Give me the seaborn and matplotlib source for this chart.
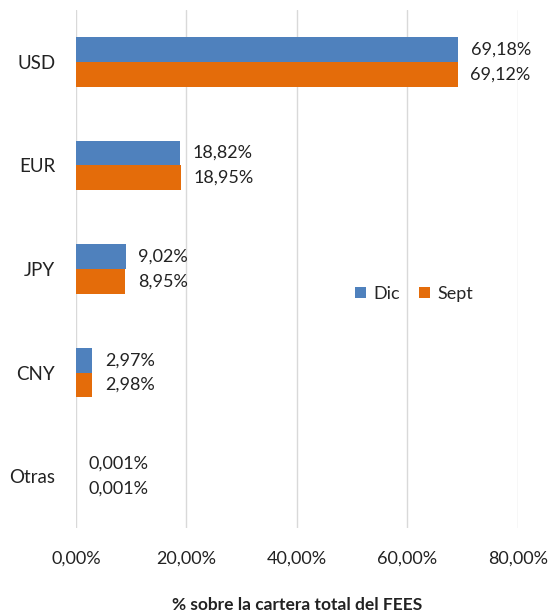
import matplotlib
matplotlib.use("Agg")
import matplotlib.pyplot as plt
import seaborn as sns
import pandas as pd
from matplotlib.ticker import FuncFormatter

categories = ["USD", "EUR", "JPY", "CNY", "Otras"]
dic_values = [69.18, 18.82, 9.02, 2.97, 0.001]
sept_values = [69.12, 18.95, 8.95, 2.98, 0.001]
dic_labels = ["69,18%", "18,82%", "9,02%", "2,97%", "0,001%"]
sept_labels = ["69,12%", "18,95%", "8,95%", "2,98%", "0,001%"]
series_names = ["Dic", "Sept"]
x_ticks = [0, 20, 40, 60, 80]

df = pd.DataFrame({
    "cat": categories * 2,
    "val": dic_values + sept_values,
    "serie": [series_names[0]] * len(categories) + [series_names[1]] * len(categories),
})

sns.set_theme(style="white")
plt.rcParams["font.family"] = ["Lato", "DejaVu Sans"]

fig = plt.figure(figsize=(5.49, 6.12), dpi=100)
ax = fig.add_axes([0.1384, 0.1373, 0.8051, 0.8464])

sns.barplot(data=df, y="cat", x="val", hue="serie", orient="h",
            palette=["#4F81BD", "#E46C0A"], width=0.48, gap=0,
            saturation=1, ax=ax, legend=True, linewidth=0)

for cont, labs in zip(ax.containers, [dic_labels, sept_labels]):
    ax.bar_label(cont, labels=labs, padding=9, fontsize=13, color="#222222")

ax.set_xlim(0, 80)
ax.set_ylim(4.5, -0.5)
ax.set_xticks(x_ticks)
ax.xaxis.set_major_formatter(FuncFormatter(lambda v, p: f"{v:.2f}%".replace(".", ",")))
ax.grid(axis="x", color="#D9D9D9", linewidth=1)
ax.set_axisbelow(True)
for s in ax.spines.values():
    s.set_visible(False)
ax.tick_params(axis="x", labelsize=13, pad=16, length=0, colors="#222222")
ax.tick_params(axis="y", labelsize=13.5, pad=15, length=0, colors="#222222")
ax.set_ylabel("")
ax.set_xlabel("% sobre la cartera total del FEES", fontsize=12.5, fontweight="bold",
              labelpad=22, color="#222222")

leg = ax.legend(loc="center", bbox_to_anchor=(0.765, 0.452), ncol=2, frameon=False,
                fontsize=13, handlelength=0.6, handleheight=0.6, columnspacing=1.1,
                handletextpad=0.4)

fig.savefig("out.png", dpi=100)
